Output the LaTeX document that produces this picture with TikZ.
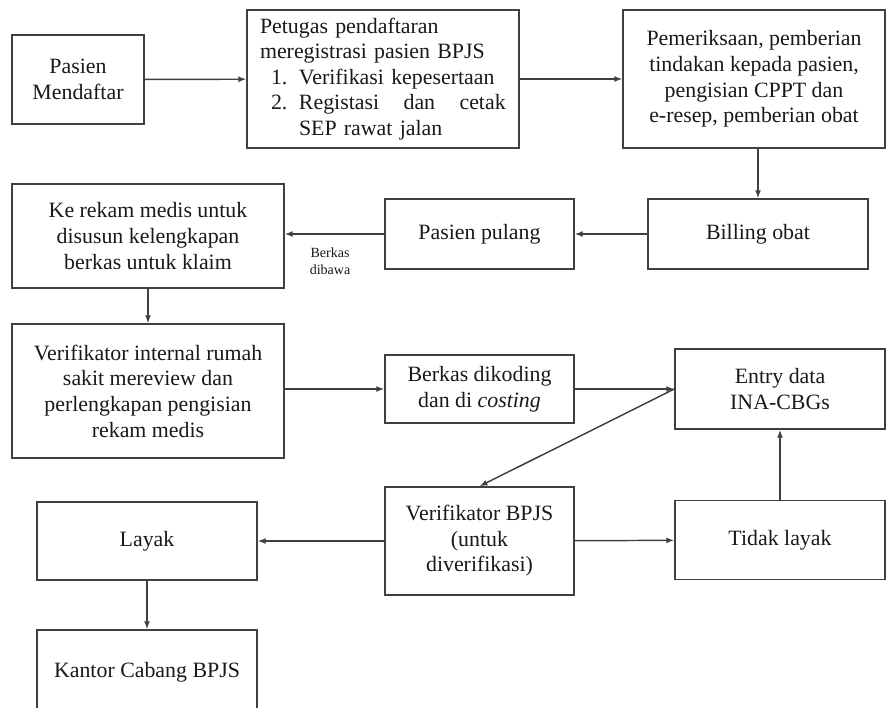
\documentclass[tikz,border=0pt]{standalone}
\usepackage{fontspec}
\setmainfont{Liberation Serif}
\usetikzlibrary{arrows.meta,positioning}

\begin{document}
\begin{tikzpicture}[x=0.75pt, y=-0.75pt,
  box/.style={draw=black!75, line width=1.1pt, align=center, inner xsep=4pt, inner ysep=1pt, text=black!90, font=\fontsize{16.4}{19.2}\selectfont},
  arr/.style={-{Latex[length=6pt,width=4.5pt]}, draw=black!75, line width=1.1pt},
  lbl/.style={font=\fontsize{10.5}{13}\selectfont, align=center, text=black!90}
]
  \useasboundingbox (0,0) rectangle (887,707);
  \clip (0,0) rectangle (887,707);

  % Top row
  \node[box, minimum width=99pt, minimum height=66.75pt] (daftar) at (78,79.5) {Pasien\\Mendaftar};
  \node[box, minimum width=204pt, minimum height=103.5pt, text width=184.5pt, align=left] (petugas) at (383,79) {%
    Petugas pendaftaran\\
    meregistrasi pasien BPJS\\
    \hspace*{8.25pt}\makebox[21pt][l]{1.}Verifikasi kepesertaan\\
    \hspace*{8.25pt}\makebox[21pt][l]{2.}\makebox[155pt][l]{Registasi\hfill dan\hfill cetak}\\
    \hspace*{29.25pt}SEP rawat jalan};
  \node[box, minimum width=196.5pt, minimum height=103.5pt] (periksa) at (754,79) {Pemeriksaan, pemberian\\tindakan kepada pasien,\\pengisian CPPT dan\\e-resep, pemberian obat};

  \draw[arr] (daftar) -- (petugas);
  \draw[arr] (petugas) -- (periksa);

  % Second row
  \node[box, minimum width=165pt, minimum height=52.5pt] (billing) at (758,234) {Billing obat};
  \node[box, minimum width=141.75pt, minimum height=52.5pt] (pulang) at (479.5,234) {Pasien pulang};
  \node[box, minimum width=204pt, minimum height=78pt] (rekam) at (148,236) {Ke rekam medis untuk\\disusun kelengkapan\\berkas untuk klaim};

  \draw[arr] (periksa.south -| billing) -- (billing);
  \draw[arr] (billing) -- (pulang);
  \draw[arr] (pulang.west) -- (pulang.west -| rekam.east);
  \node[lbl] (dibawa) at (330,261) {Berkas\\dibawa};

  % Third row
  \node[box, minimum width=204pt, minimum height=100.5pt] (internal) at (148,391) {Verifikator internal rumah\\sakit mereview dan\\perlengkapan pengisian\\rekam medis};
  \node[box, minimum width=141.75pt, minimum height=51pt] (koding) at (479.5,389) {Berkas dikoding\\dan di \textit{costing}};
  \node[box, minimum width=157.5pt, minimum height=60pt] (entry) at (780,389) {Entry data\\INA-CBGs};

  \draw[arr] (rekam) -- (internal);
  \draw[arr] (internal.east |- koding.west) -- (koding.west);
  \draw[arr] (koding) -- (entry);

  % Bottom rows
  \node[box, minimum width=141.75pt, minimum height=81pt] (vbpjs) at (479.5,541) {Verifikator BPJS\\(untuk\\diverifikasi)};
  \node[box, minimum width=165pt, minimum height=58.5pt] (layak) at (147,541) {Layak};
  \node[box, minimum width=157.5pt, minimum height=59.25pt] (tidak) at (780,540) {Tidak layak};
  \node[box, minimum width=165pt, minimum height=63pt] (kantor) at (147,672) {Kantor Cabang BPJS};

  \draw[arr] (entry.west) -- (vbpjs.north);
  \draw[arr] (vbpjs) -- (layak);
  \draw[arr] (vbpjs) -- (tidak);
  \draw[arr] (tidak) -- (entry);
  \draw[arr] (layak) -- (kantor);
\end{tikzpicture}
\end{document}
